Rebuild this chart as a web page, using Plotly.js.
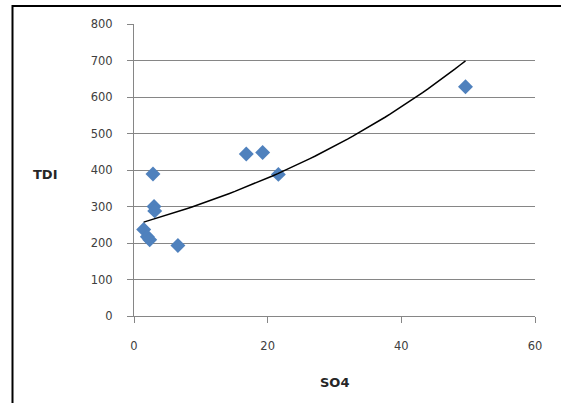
<!DOCTYPE html>
<html>
<head>
<meta charset="utf-8">
<script src="https://cdn.plot.ly/plotly-3.0.1.min.js"></script>
<style>
  html, body { margin: 0; padding: 0; background: #fff; }
  #chart { width: 562px; height: 403px; }
</style>
</head>
<body>
<div id="chart"></div>
<script>
// Data (SO4 vs TDI)
const so4 = [49.6, 16.8, 19.25, 21.6, 2.84, 3.0, 3.1, 1.45, 2.0, 2.35, 6.57];
const tdi = [628, 444, 448, 388, 389, 300, 288, 237, 217, 209, 193];

const xTickVals = [0, 20, 40, 60];
const yTickVals = [0, 100, 200, 300, 400, 500, 600, 700, 800];
const xTitle = "SO4";
const yTitle = "TDI";

// Exponential trendline (least squares on ln y, as a spreadsheet trendline does)
const n = so4.length;
const lny = tdi.map(v => Math.log(v));
const mx = so4.reduce((a, b) => a + b, 0) / n;
const my = lny.reduce((a, b) => a + b, 0) / n;
let sxy = 0, sxx = 0;
for (let i = 0; i < n; i++) { sxy += (so4[i] - mx) * (lny[i] - my); sxx += (so4[i] - mx) ** 2; }
const b = sxy / sxx;
const a = Math.exp(my - b * mx);
const xmin = Math.min(...so4), xmax = Math.max(...so4);
const trendX = [], trendY = [];
for (let k = 0; k <= 60; k++) {
  const x = xmin + (xmax - xmin) * k / 60;
  trendX.push(x); trendY.push(a * Math.exp(b * x));
}

const W = 562, H = 403;
const margin = { l: 134, r: 27, t: 24, b: 87 };
const PW = W - margin.l - margin.r, PH = H - margin.t - margin.b;
const px2x = p => (p - margin.l) / PW;
const px2y = p => (H - margin.b - p) / PH;
const tickFont = { family: "DejaVu Sans", size: 11.5, color: "#404040" };
const titleFont = { family: "DejaVu Sans", size: 13, color: "#262626", weight: "bold" };

const traces = [
  {
    x: so4, y: tdi, type: "scatter", mode: "markers",
    marker: { symbol: "diamond", size: 11.5, color: "#4F81BD" },
    hoverinfo: "x+y", showlegend: false
  },
  {
    x: trendX, y: trendY, type: "scatter", mode: "lines",
    line: { color: "#000000", width: 1.5 },
    hoverinfo: "skip", showlegend: false
  }
];

const layout = {
  width: W, height: H,
  margin: margin,
  paper_bgcolor: "#ffffff", plot_bgcolor: "#ffffff",
  showlegend: false,
  xaxis: {
    range: [0, 60], tickvals: xTickVals, ticktext: xTickVals.map(String),
    showgrid: false, zeroline: false,
    showline: true, linecolor: "#868686", linewidth: 1,
    ticks: "outside", ticklen: 6, tickcolor: "#868686",
    tickfont: tickFont, ticklabelstandoff: 13
  },
  yaxis: {
    range: [0, 800], tickvals: yTickVals, ticktext: yTickVals.map(String),
    showgrid: true, gridcolor: "#868686", gridwidth: 1,
    zeroline: false,
    showline: true, linecolor: "#868686", linewidth: 1,
    ticks: "outside", ticklen: 6, tickcolor: "#868686",
    tickfont: tickFont, ticklabelstandoff: 12
  },
  annotations: [
    {
      text: xTitle, xref: "paper", yref: "paper",
      x: 0.5, y: px2y(382),
      xanchor: "center", yanchor: "middle", showarrow: false, font: titleFont
    },
    {
      text: yTitle, xref: "paper", yref: "paper",
      x: px2x(45), y: px2y(174),
      xanchor: "center", yanchor: "middle", showarrow: false, font: titleFont
    }
  ],
  shapes: [
    {
      type: "path", xref: "paper", yref: "paper",
      path: "M " + px2x(12.5) + "," + px2y(H + 2) + " L " + px2x(12.5) + "," + px2y(6) + " L " + px2x(W - 1) + "," + px2y(6),
      line: { color: "#000000", width: 2 }, layer: "above"
    }
  ]
};

Plotly.newPlot("chart", traces, layout, { displayModeBar: false, staticPlot: true });
</script>
</body>
</html>
